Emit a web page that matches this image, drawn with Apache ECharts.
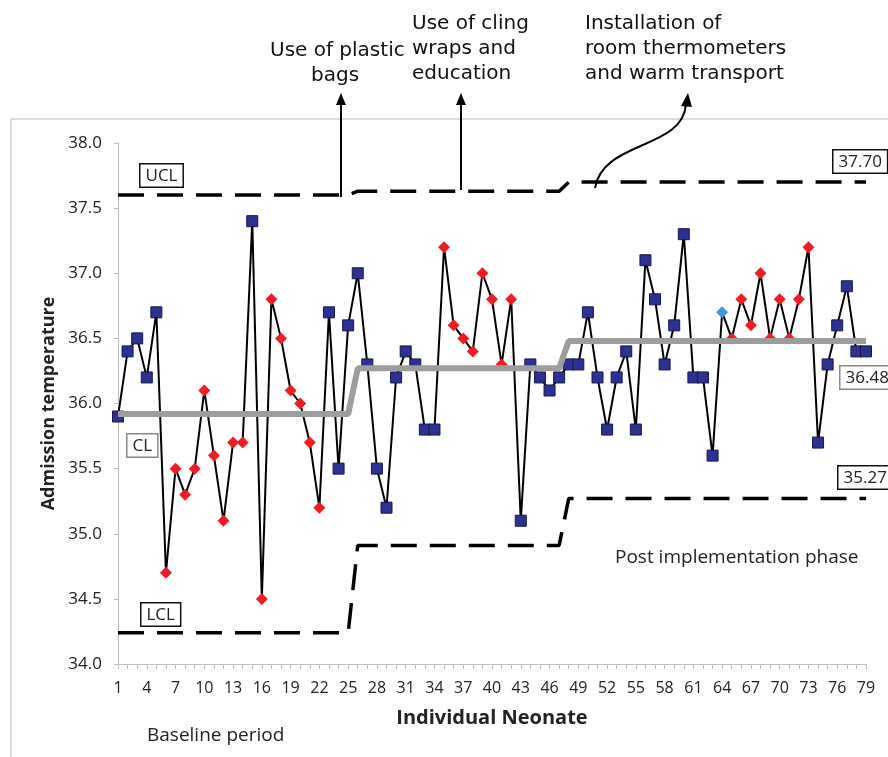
<!DOCTYPE html>
<html>
<head>
<meta charset="utf-8">
<script src="https://cdn.jsdelivr.net/npm/echarts@6/dist/echarts.min.js"></script>
<style>
html, body { margin: 0; padding: 0; background: #fff; }
#chart { width: 888px; height: 757px; }
</style>
</head>
<body>
<div id="chart"></div>
<script>
// neonate numbers 1..79
var neonates = [];
for (var i = 1; i <= 79; i++) neonates.push(String(i));

// admission temperature per neonate
var temps = [
	35.9, 36.4, 36.5, 36.2, 36.7, 34.7, 35.5, 35.3, 35.5, 36.1,
	35.6, 35.1, 35.7, 35.7, 37.4, 34.5, 36.8, 36.5, 36.1, 36.0,
	35.7, 35.2, 36.7, 35.5, 36.6, 37.0, 36.3, 35.5, 35.2, 36.2,
	36.4, 36.3, 35.8, 35.8, 37.2, 36.6, 36.5, 36.4, 37.0, 36.8,
	36.3, 36.8, 35.1, 36.3, 36.2, 36.1, 36.2, 36.3, 36.3, 36.7,
	36.2, 35.8, 36.2, 36.4, 35.8, 37.1, 36.8, 36.3, 36.6, 37.3,
	36.2, 36.2, 35.6, 36.7, 36.5, 36.8, 36.6, 37.0, 36.5, 36.8,
	36.5, 36.8, 37.2, 35.7, 36.3, 36.6, 36.9, 36.4, 36.4
];

// marker kind per neonate: b = blue square, r = red diamond, c = light blue diamond
var markers = [
	'b','b','b','b','b','r','r','r','r','r',
	'r','r','r','r','b','r','r','r','r','r',
	'r','r','b','b','b','b','b','b','b','b',
	'b','b','b','b','r','r','r','r','r','r',
	'r','r','b','b','b','b','b','b','b','b',
	'b','b','b','b','b','b','b','b','b','b',
	'b','b','b','c','r','r','r','r','r','r',
	'r','r','r','b','b','b','b','b','b'
];

// control limits as [neonate, value] break points
var clPts  = [[1, 35.92], [25, 35.92], [26, 36.27], [47, 36.27], [48, 36.48], [79, 36.48]];
var uclPts = [[1, 37.60], [25, 37.60], [26, 37.63], [47, 37.63], [48, 37.70], [79, 37.70]];
var lclPts = [[1, 34.24], [25, 34.24], [26, 34.91], [47, 34.91], [48, 35.27], [79, 35.27]];

var yTicks = ['34.0', '34.5', '35.0', '35.5', '36.0', '36.5', '37.0', '37.5', '38.0'];

var markerStyle = {
	b: { symbol: 'rect', symbolSize: 11, itemStyle: { color: '#2d3192', borderColor: '#15174a', borderWidth: 1 } },
	r: { symbol: 'diamond', symbolSize: 12, itemStyle: { color: '#ee1c25', borderColor: '#ee1c25', borderWidth: 0 } },
	c: { symbol: 'diamond', symbolSize: 12, itemStyle: { color: '#3e9bd5', borderColor: '#3e9bd5', borderWidth: 0 } }
};

function toIdx(pts) {
	return pts.map(function (p) { return [p[0] - 1, p[1]]; });
}

var tempData = temps.map(function (v, i) {
	var m = markerStyle[markers[i]];
	return { value: v, symbol: m.symbol, symbolSize: m.symbolSize, itemStyle: m.itemStyle };
});

var labelFont = '"Open Sans", Lato, sans-serif';
var noteFont = '"DejaVu Sans", sans-serif';

function boxText(x, y, txt, border) {
	return {
		type: 'text', left: x, top: y, z: 20,
		style: {
			text: txt, font: '17px ' + labelFont, fill: '#222',
			backgroundColor: '#fff', borderColor: border, borderWidth: 1.5,
			padding: [3, 5, 2, 5]
		}
	};
}

function arrowUp(x, y0, y1) {
	return [
		{ type: 'line', z: 20, shape: { x1: x, y1: y0, x2: x, y2: y1 + 8 }, style: { stroke: '#000', lineWidth: 2 } },
		{ type: 'polygon', z: 20, shape: { points: [[x, y1], [x - 5, y1 + 12], [x + 5, y1 + 12]] }, style: { fill: '#000' } }
	];
}

var graphics = [
	{ type: 'rect', z: 0, shape: { x: 11, y: 119, width: 900, height: 700 }, style: { fill: 'none', stroke: '#d0d0d0', lineWidth: 1.5 } },
	boxText(139, 163, 'UCL', '#111'),
	boxText(126, 433, 'CL', '#888'),
	boxText(140, 602, 'LCL', '#111'),
	boxText(832, 149, '37.70', '#111'),
	boxText(839, 365, '36.48', '#888'),
	boxText(837, 465, '35.27', '#111'),
	{ type: 'text', left: 270, top: 41, style: { text: 'Use of plastic', font: '20px ' + noteFont, fill: '#111' } },
	{ type: 'text', left: 311, top: 66, style: { text: 'bags', font: '20px ' + noteFont, fill: '#111' } },
	{ type: 'text', left: 412, top: 11, style: { text: 'Use of cling\nwraps and\neducation', font: '20px ' + noteFont, fill: '#111', lineHeight: 25 } },
	{ type: 'text', left: 585, top: 11, style: { text: 'Installation of\nroom thermometers\nand warm transport', font: '20px ' + noteFont, fill: '#111', lineHeight: 25 } },
	{ type: 'bezierCurve', z: 20, shape: { x1: 595, y1: 188, cpx1: 603, cpy1: 140, cpx2: 683, cpy2: 150, x2: 686, y2: 104 }, style: { stroke: '#000', lineWidth: 2, fill: 'none' } },
	{ type: 'polygon', z: 20, shape: { points: [[688, 93], [681, 106], [692, 107]] }, style: { fill: '#000' } },
	{ type: 'text', left: 147, top: 726, style: { text: 'Baseline period', font: '19px ' + labelFont, fill: '#222' } },
	{ type: 'text', left: 615, top: 548, style: { text: 'Post implementation phase', font: '19px ' + labelFont, fill: '#222' } }
].concat(arrowUp(341, 197, 93), arrowUp(461, 190, 93));

var chart = echarts.init(document.getElementById('chart'), null, { renderer: 'canvas' });

var option = {
	animation: false,
	backgroundColor: '#fff',
	grid: { left: 118, right: 22, top: 143, bottom: 93 },
	xAxis: {
		type: 'category',
		data: neonates,
		boundaryGap: false,
		name: 'Individual Neonate',
		nameLocation: 'middle',
		nameGap: 44,
		nameTextStyle: { fontFamily: labelFont, fontWeight: 'bold', fontSize: 20, color: '#222' },
		axisLine: { lineStyle: { color: '#bdbdbd', width: 1 } },
		axisTick: { show: true, interval: 0, length: 5, lineStyle: { color: '#bdbdbd' } },
		axisLabel: { interval: 2, fontFamily: labelFont, fontSize: 16, color: '#222', margin: 16 },
		splitLine: { show: false }
	},
	yAxis: {
		type: 'value',
		min: 34, max: 38, interval: 0.5,
		name: 'Admission temperature',
		nameLocation: 'middle',
		nameRotate: 90,
		nameGap: 58,
		nameTextStyle: { fontFamily: labelFont, fontWeight: 'bold', fontSize: 18, color: '#222' },
		axisLine: { show: true, lineStyle: { color: '#bdbdbd', width: 1 } },
		axisTick: { show: true, length: 4, lineStyle: { color: '#bdbdbd' } },
		axisLabel: {
			fontFamily: labelFont, fontSize: 17, color: '#222', margin: 16,
			formatter: function (v) { return yTicks[Math.round((v - 34) / 0.5)]; }
		},
		splitLine: { show: false }
	},
	series: [
		{
			name: 'UCL', type: 'line', data: toIdx(uclPts), symbol: 'none', z: 3,
			lineStyle: { color: '#000', width: 3.5, type: [26, 13] }
		},
		{
			name: 'LCL', type: 'line', data: toIdx(lclPts), symbol: 'none', z: 3,
			lineStyle: { color: '#000', width: 3.5, type: [26, 13] }
		},
		{
			name: 'Temperature', type: 'line', data: tempData, z: 4,
			lineStyle: { color: '#000', width: 2 },
			showAllSymbol: true
		},
		{
			name: 'CL', type: 'line', data: toIdx(clPts), symbol: 'none', z: 6,
			lineStyle: { color: '#9d9d9d', width: 6 }
		}
	],
	graphic: graphics
};

chart.setOption(option);
</script>
</body>
</html>
